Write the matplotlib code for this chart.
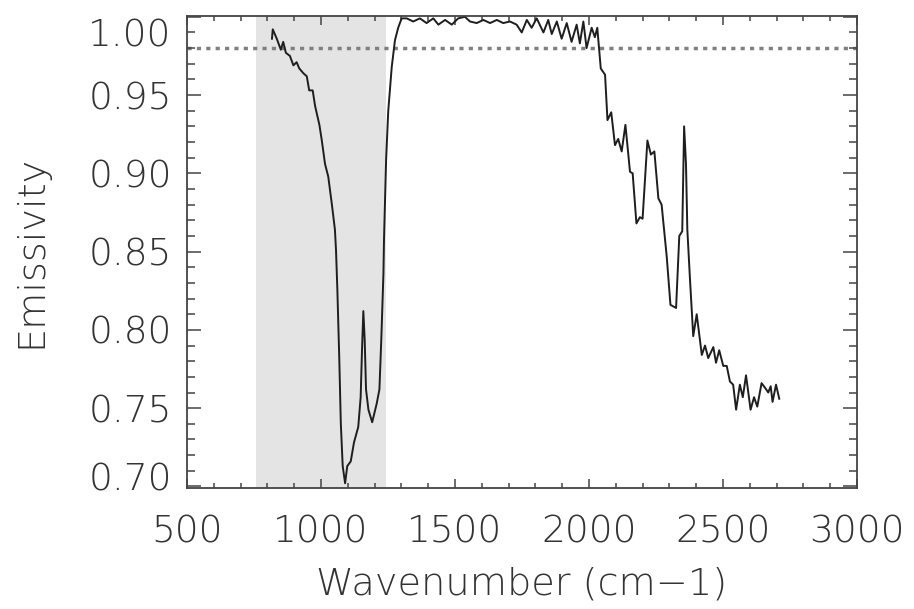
# emissivity spectrum, recreated with matplotlib

import numpy as np
import matplotlib
matplotlib.use('Agg')
from matplotlib import pyplot as plt
from matplotlib import transforms
from matplotlib.ticker import MultipleLocator

# wavenumber (cm-1) and emissivity
wavenumber = [817, 820, 835, 850, 859, 869, 884, 897, 909, 919, 934, 947, 956, 969,
              978, 994, 1003, 1015, 1027, 1040, 1052, 1056, 1061, 1068, 1074, 1081,
              1090, 1098, 1111, 1123, 1139, 1148, 1153, 1158, 1163, 1168, 1177, 1191,
              1208, 1218, 1225, 1233, 1235, 1243, 1251, 1264, 1276, 1288, 1301,
              1320, 1344, 1369, 1394, 1419, 1438, 1463, 1488, 1512, 1537, 1556, 1581,
              1606, 1631, 1656, 1680, 1705, 1730, 1749, 1768, 1786, 1805, 1830, 1848,
              1861, 1880, 1898, 1917, 1935, 1954, 1966, 1979, 1991, 2010, 2022, 2031,
              2038, 2044, 2060, 2069, 2083, 2097, 2109, 2122, 2136, 2153, 2163, 2177,
              2190, 2200, 2218, 2231, 2244, 2259, 2271, 2290, 2304, 2325, 2337, 2348,
              2355, 2362, 2367, 2377, 2389, 2402, 2421, 2433, 2445, 2464, 2474, 2486,
              2501, 2514, 2526, 2538, 2549, 2563, 2574, 2586, 2603, 2616, 2628, 2644,
              2657, 2669, 2678, 2685, 2698, 2710]
emissivity = [0.986, 0.992, 0.986, 0.979, 0.984, 0.977, 0.975, 0.969, 0.971, 0.967,
              0.964, 0.962, 0.953, 0.953, 0.943, 0.931, 0.921, 0.906, 0.898, 0.881,
              0.864, 0.851, 0.826, 0.783, 0.740, 0.713, 0.702, 0.713, 0.716, 0.728,
              0.738, 0.757, 0.787, 0.812, 0.794, 0.762, 0.749, 0.741, 0.753, 0.762,
              0.794, 0.836, 0.857, 0.909, 0.940, 0.968, 0.985, 0.993, 0.999,
              0.999, 0.997, 0.999, 0.996, 0.999, 0.995, 0.998, 0.995, 0.999, 1.000,
              0.997, 0.996, 0.998, 0.996, 0.998, 0.996, 0.997, 0.995, 0.990, 0.998,
              0.993, 0.999, 0.990, 0.998, 0.989, 0.997, 0.986, 0.996, 0.984, 0.995,
              0.983, 0.997, 0.980, 0.993, 0.987, 0.993, 0.979, 0.967, 0.963, 0.934,
              0.939, 0.918, 0.922, 0.914, 0.931, 0.901, 0.900, 0.868, 0.872, 0.871,
              0.921, 0.912, 0.914, 0.884, 0.880, 0.847, 0.816, 0.814, 0.860, 0.863,
              0.930, 0.906, 0.864, 0.832, 0.796, 0.810, 0.784, 0.790, 0.782, 0.789,
              0.779, 0.787, 0.777, 0.777, 0.767, 0.765, 0.749, 0.765, 0.757, 0.771,
              0.749, 0.757, 0.751, 0.766, 0.763, 0.760, 0.764, 0.754, 0.765, 0.756]

# shaded band and dotted reference level
band = [757, 1241]
level = 0.98

x_ticks = [500, 1000, 1500, 2000, 2500, 3000]
y_ticks = [0.70, 0.75, 0.80, 0.85, 0.90, 0.95, 1.00]

plt.rcParams['font.family'] = ['DejaVu Sans']
plt.rcParams['font.weight'] = 'light'
plt.rcParams['axes.labelweight'] = 'light'
text_col = '#333333'
axis_col = '#444444'

fig = plt.figure(figsize=(9.14, 6.09), dpi=100)
ax = fig.add_axes([0.2046, 0.1987, 0.733, 0.7755])

ax.axvspan(band[0], band[1], color='#e4e4e4', lw=0, zorder=0)
ax.axhline(level, color='#808080', lw=2.5, linestyle=(0, (1.2, 1.5)),
           dash_capstyle='butt', zorder=1)
ax.plot(wavenumber, emissivity, color='#1e1e1e', lw=1.4, zorder=2)

ax.set_xlim(500, 3000)
ax.set_ylim(0.699, 1.0007)
ax.set_xticks(x_ticks)
ax.set_yticks(y_ticks)
ax.set_yticklabels(['%.2f' % v for v in y_ticks])
ax.xaxis.set_minor_locator(MultipleLocator(100))
ax.yaxis.set_minor_locator(MultipleLocator(0.01))

# ticks point inward on all four sides
ax.tick_params(axis='both', which='both', direction='in', top=True, right=True,
               color=axis_col, width=1.1, labelcolor=text_col, labelsize=27)
ax.tick_params(axis='x', which='major', length=6.5, pad=19)
ax.tick_params(axis='x', which='minor', length=3.6)
ax.tick_params(axis='y', which='major', length=10, pad=11)
ax.tick_params(axis='y', which='minor', length=5.8)

# end labels are nudged inside the axis range like the reference
ylabs = ax.get_yticklabels()
ylabs[0].set_transform(ylabs[0].get_transform() +
                       transforms.ScaledTranslation(0, 10 / 100, fig.dpi_scale_trans))
ylabs[-1].set_transform(ylabs[-1].get_transform() +
                        transforms.ScaledTranslation(0, -16 / 100, fig.dpi_scale_trans))

for s in ax.spines.values():
    s.set_color(axis_col)
    s.set_linewidth(1.3)

ax.set_xlabel('Wavenumber (cm\u22121)', fontsize=27.5, color=text_col, labelpad=12)
ax.set_ylabel('Emissivity', fontsize=27.5, color=text_col, labelpad=29)

plt.savefig('out.png', dpi=100)
